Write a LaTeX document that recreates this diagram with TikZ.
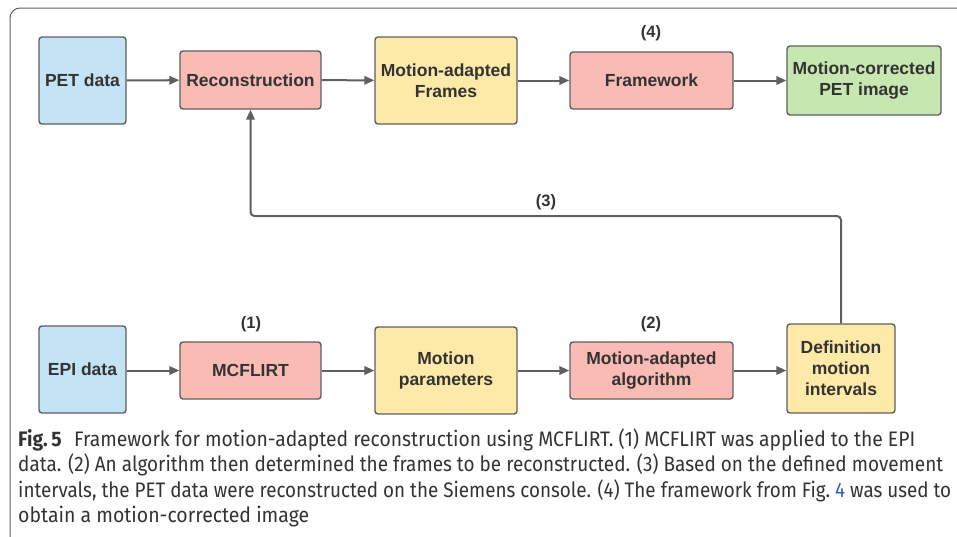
\documentclass[tikz,border=0pt]{standalone}
\usepackage{fontspec}
\usepackage{graphicx}
\setmainfont{Liberation Sans}
\newfontfamily\capfont[FakeStretch=0.92]{Fira Sans}
\usetikzlibrary{arrows.meta}
\definecolor{boxline}{HTML}{5F5F5F}
\definecolor{txt}{HTML}{333333}
\definecolor{cblue}{HTML}{C4E3F5}
\definecolor{cred}{HTML}{F9BBB3}
\definecolor{cyel}{HTML}{FDE9A8}
\definecolor{cgreen}{HTML}{C7E7B1}
\definecolor{link}{HTML}{2F5FD0}
\begin{document}
\begin{tikzpicture}[x=1pt,y=-1pt,
  box/.style={draw=boxline, line width=1.4pt, rounded corners=3pt, inner sep=0pt, align=center,
    font=\fontsize{17.5}{21}\selectfont\bfseries, text=txt},
  arr/.style={draw=boxline, line width=2pt, -{Triangle[length=10pt,width=8.5pt]}},
  num/.style={font=\fontsize{16.5}{18}\selectfont\bfseries, text=txt, inner sep=0pt},
  captext/.style={font=\capfont\fontsize{21}{24}\selectfont, text=txt, inner sep=0pt, anchor=base west}]
\useasboundingbox (0,0) rectangle (957,536);
\draw[draw=boxline, line width=1pt, rounded corners=10pt] (10,540) -- (10,8) -- (970,8);
% top row
\node[box, fill=cblue, minimum width=87, minimum height=87] (pet) at (82.5,80.5) {PET data};
\node[box, fill=cred, minimum width=141, minimum height=58] (rec) at (250.5,80) {Reconstruction};
\node[box, fill=cyel, minimum width=142, minimum height=87] (maf) at (446,80.5) {Motion-adapted\\Frames};
\node[box, fill=cred, minimum width=163, minimum height=57] (fw) at (651.5,80.5) {Framework};
\node[box, fill=cgreen, minimum width=154, minimum height=69] (mc) at (864,80.5) {Motion-corrected\\PET image};
% bottom row
\node[box, fill=cblue, minimum width=87, minimum height=87] (epi) at (82.5,369.5) {EPI data};
\node[box, fill=cred, minimum width=141, minimum height=57] (mcf) at (250.5,370.5) {MCFLIRT};
\node[box, fill=cyel, minimum width=142, minimum height=87] (mp) at (446,370.5) {Motion\\parameters};
\node[box, fill=cred, minimum width=163, minimum height=57] (alg) at (651.5,370.5) {Motion-adapted\\algorithm};
\node[box, fill=cyel, minimum width=108, minimum height=89] (def) at (841,368.5) {Definition\\motion\\intervals};
% labels
\node[num] (l4) at (651,33) {(4)};
\node[num] (l1) at (251,324) {(1)};
\node[num] (l2) at (651,324) {(2)};
\node[num] (l3) at (546,202) {(3)};
% arrows
\draw[arr] (pet) -- (rec);
\draw[arr] (rec) -- (maf);
\draw[arr] (maf) -- (fw);
\draw[arr] (fw) -- (mc);
\draw[arr] (epi.east |- mcf) -- (mcf);
\draw[arr] (mcf) -- (mp);
\draw[arr] (mp) -- (alg);
\draw[arr] (alg) -- (def.west |- alg);
\coordinate (fb) at (250.5,216);
\draw[arr, rounded corners=4pt] (def.north) |- (fb) -- (rec.south);
% caption
\node[captext] (c1) at (18,446) {\resizebox{897pt}{\height}{{\bfseries Fig.\,5}\hspace{0.6em}Framework for motion-adapted reconstruction using MCFLIRT. (1) MCFLIRT was applied to the EPI}};
\node[captext] (c2) at (18,471.5) {\resizebox{925pt}{\height}{data. (2) An algorithm then determined the frames to be reconstructed. (3) Based on the defined movement}};
\node[captext] (c3) at (18,497) {\resizebox{933pt}{\height}{intervals, the PET data were reconstructed on the Siemens console. (4) The framework from Fig.~\textcolor{link}{4} was used to}};
\node[captext] (c4) at (18,522.5) {\resizebox{291pt}{\height}{obtain a motion-corrected image}};
\end{tikzpicture}
\end{document}
